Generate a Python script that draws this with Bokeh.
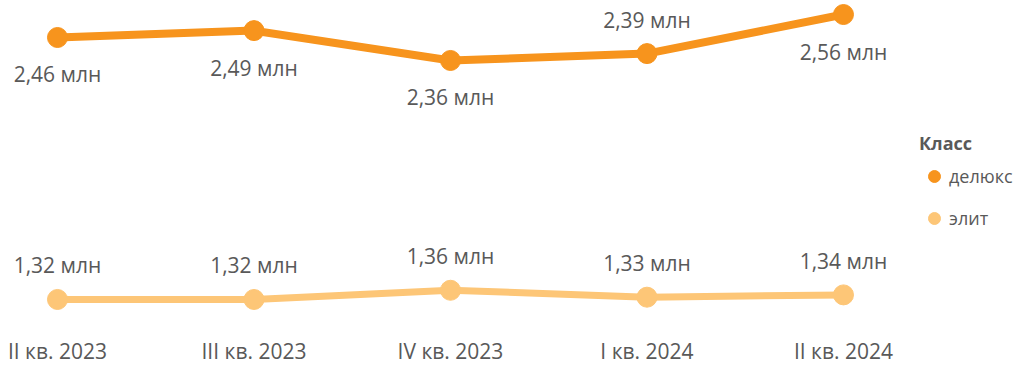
from bokeh.plotting import figure
from bokeh.models import ColumnDataSource, Range1d, FixedTicker, Legend, LegendItem
from bokeh.core.properties import value
from bokeh.embed import file_html
from bokeh.resources import INLINE

quarters = ["II кв. 2023", "III кв. 2023", "IV кв. 2023", "I кв. 2024", "II кв. 2024"]
deluxe = [2.46, 2.49, 2.36, 2.39, 2.56]
elite = [1.32, 1.32, 1.36, 1.33, 1.34]
deluxe_label_pos = ["below", "below", "below", "above", "below"]
elite_label_pos = ["above", "above", "above", "above", "above"]

FONT = "Open Sans"
TXT = "#595959"
C_DELUXE = "#F7941D"
C_ELITE = "#FDC677"

def fmt(v):
    return ("%.2f" % v).replace(".", ",") + " млн"

x = list(range(len(quarters)))

p = figure(frame_width=1018, frame_height=320, output_backend="svg", toolbar_location=None,
           x_range=Range1d(-0.290, -0.290 + 1018 / 196.5), y_range=Range1d(1.2285, 2.621),
           min_border_left=0, min_border_right=0, min_border_top=0, min_border_bottom=0)
p.outline_line_color = None
p.grid.visible = False
p.yaxis.visible = False
p.background_fill_color = None
p.border_fill_color = None

xa = p.xaxis[0]
xa.ticker = FixedTicker(ticks=x)
xa.major_label_overrides = {i: q for i, q in enumerate(quarters)}
xa.axis_line_color = None
xa.major_tick_line_color = None
xa.minor_tick_line_color = None
xa.major_tick_out = 0
xa.major_label_standoff = 16
xa.major_label_text_font = FONT
xa.major_label_text_font_size = "21px"
xa.major_label_text_color = TXT

legend_items = []
for name, vals, pos, col, lw in [("делюкс", deluxe, deluxe_label_pos, C_DELUXE, 8),
                                  ("элит", elite, elite_label_pos, C_ELITE, 7)]:
    src = ColumnDataSource(dict(x=x, y=vals, lab=[fmt(v) for v in vals],
                                off=[-34 if s == "above" else 37 for s in pos]))
    p.line("x", "y", source=src, line_color=col, line_width=lw)
    r = p.scatter("x", "y", source=src, size=20, fill_color=col, line_color=col)
    p.text("x", "y", text="lab", source=src, y_offset="off", text_align="center",
           text_baseline="middle", text_font=value(FONT), text_font_size="21px", text_color=TXT)
    legend_items.append(LegendItem(label=name, renderers=[r]))

leg = Legend(items=legend_items, location=(919, 86), title="Класс",
             title_text_font=FONT, title_text_font_style="bold", title_text_font_size="18px",
             title_text_color=TXT, label_text_font=FONT, label_text_font_size="18px",
             label_text_color=TXT, border_line_color=None, background_fill_alpha=0,
             padding=0, margin=0, spacing=10, glyph_width=30, glyph_height=32,
             label_standoff=-7, title_standoff=5)
p.add_layout(leg)

open("out.html", "w").write(file_html(p, INLINE))
